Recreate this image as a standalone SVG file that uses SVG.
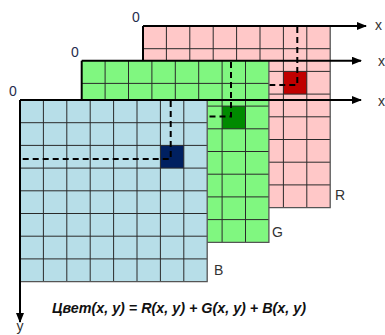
<svg xmlns="http://www.w3.org/2000/svg" width="385" height="335" viewBox="0 0 385 335">
<style>
.lbl{font-family:"Liberation Sans",Arial,sans-serif;font-size:14px;fill:#333}
.zero{font-family:"Liberation Sans",Arial,sans-serif;font-size:14px;fill:#1f2d4d}
.gl{fill:none;stroke:#2a2a2a;stroke-width:1}
.edge{fill:none;stroke:#555;stroke-width:1.3}
.lb{stroke:#000;stroke-width:2}
.axis{stroke:#000;stroke-width:2;fill:none;marker-end:url(#ah)}
.dash{stroke:#000;stroke-width:2;stroke-dasharray:6 4;fill:none}
.f{font-family:"Liberation Sans",Arial,sans-serif;font-size:15px;font-weight:bold;font-style:italic;fill:#111}
</style>
<defs>
<marker id="ah" markerWidth="10" markerHeight="8" refX="9" refY="4" orient="auto" markerUnits="userSpaceOnUse">
<path d="M0,0 L10,4 L0,8 z" fill="#000"/>
</marker>
<path id="grid" class="gl" d="M23.4,0V181.6M46.8,0V181.6M70.2,0V181.6M93.6,0V181.6M117,0V181.6M140.4,0V181.6M163.8,0V181.6M0,22.7H187.2M0,45.4H187.2M0,68.1H187.2M0,90.8H187.2M0,113.5H187.2M0,136.2H187.2M0,158.9H187.2"/>
</defs>

<g id="red">
<rect x="143" y="26" width="187.2" height="181.6" fill="#ffc8c8"/>
<rect x="283.4" y="71.4" width="23.4" height="22.7" fill="#c00000"/>
<use href="#grid" x="143" y="26"/>
<path class="edge" d="M330.2,26V207.6H143"/>
<line class="lb" x1="143" y1="26" x2="143" y2="207.6"/>
<path class="dash" d="M297.3,27V85H143"/>
<text class="zero" x="132" y="22">0</text>
<text class="lbl" x="335" y="200">R</text>
</g>

<g id="green">
<rect x="81.7" y="60.7" width="187.2" height="181.6" fill="#80f780"/>
<rect x="222.1" y="106.1" width="23.4" height="22.7" fill="#008a00"/>
<use href="#grid" x="81.7" y="60.7"/>
<path class="edge" d="M268.9,60.7V242.3H81.7"/>
<line class="lb" x1="81.7" y1="60.7" x2="81.7" y2="242.3"/>
<path class="dash" d="M231,62V116.5H81.7"/>
<text class="zero" x="71" y="57">0</text>
<text class="lbl" x="272" y="237">G</text>
</g>

<g id="blue">
<rect x="20" y="100" width="187.2" height="181.6" fill="#b7dee8"/>
<rect x="160.4" y="145.4" width="23.4" height="22.7" fill="#002060"/>
<use href="#grid" x="20" y="100"/>
<path class="edge" d="M207.2,100V281.6H20"/>
<path class="dash" d="M170.7,101V159H21"/>
<text class="zero" x="9" y="96">0</text>
<text class="lbl" x="214" y="275">B</text>
</g>

<g id="connectors">
<line class="axis" x1="143" y1="26" x2="366" y2="26"/>
<line class="axis" x1="81.7" y1="60.7" x2="361" y2="60.7"/>
<line class="axis" x1="20" y1="100" x2="361" y2="100"/>
<line class="axis" x1="20" y1="100" x2="20" y2="322"/>
</g>

<g id="labels">
<text class="lbl" x="375" y="30">x</text>
<text class="lbl" x="378" y="66">x</text>
<text class="lbl" x="378" y="106">x</text>
<text class="lbl" x="20" y="331" text-anchor="middle">y</text>
<text class="f" x="52" y="313" textLength="254" lengthAdjust="spacingAndGlyphs">Цвет(x, y) = R(x, y) + G(x, y) + B(x, y)</text>
</g>
</svg>
